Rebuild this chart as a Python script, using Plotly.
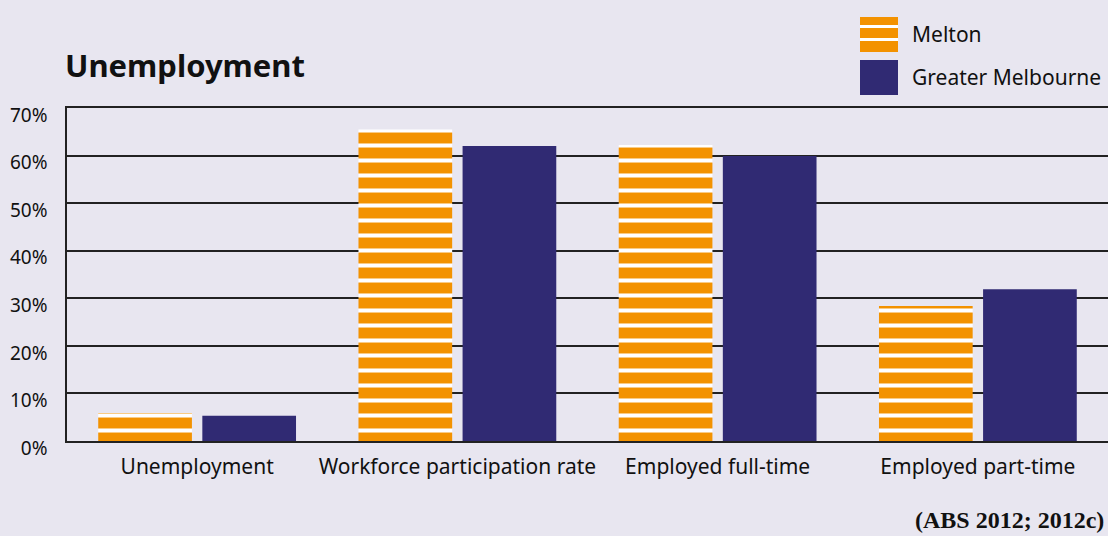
import plotly.graph_objects as go

categories = ['Unemployment', 'Workforce participation rate', 'Employed full-time', 'Employed part-time']
melton = [5.9, 65.5, 62.2, 28.4]
greater_melbourne = [5.3, 62.0, 59.9, 31.9]
series_names = ['Melton', 'Greater Melbourne']

ORANGE = '#F39200'
NAVY = '#302A73'
BG = '#E8E6F0'
FONT = 'Noto Sans'

# plot area in pixels, used to place the hand-drawn legend
PX_L, PX_R, PX_T, PX_B = 67, 1108, 108, 441


def px(x):
    return (x - PX_L) / (PX_R - PX_L)


def py(y):
    return (PX_B - y) / (PX_B - PX_T)


def main():
    fig = go.Figure()
    fig.add_trace(go.Bar(
        x=categories, y=melton, name=series_names[0],
        marker=dict(color=ORANGE, line=dict(width=0),
                    pattern=dict(shape='-', fgcolor='white', bgcolor=ORANGE, fgopacity=1,
                                 size=15, solidity=0.27, fillmode='overlay')),
    ))
    fig.add_trace(go.Bar(
        x=categories, y=greater_melbourne, name=series_names[1],
        marker=dict(color=NAVY, line=dict(width=0)),
    ))

    fig.update_layout(
        width=1108, height=536,
        paper_bgcolor=BG, plot_bgcolor=BG,
        margin=dict(l=PX_L, r=1108 - PX_R, t=PX_T, b=536 - PX_B),
        barmode='group', bargap=0.2, bargroupgap=0.1,
        showlegend=False,
        font=dict(family=FONT, size=18, color='#111'),
        xaxis=dict(showline=True, mirror=True, linecolor='#222', linewidth=2,
                   ticks='', showgrid=False, tickfont=dict(size=21),
                   ticklabelstandoff=6),
        yaxis=dict(range=[0, 70], dtick=10, ticksuffix='%', showgrid=True,
                   gridcolor='#222', gridwidth=2, showline=True, linecolor='#222',
                   linewidth=1.5, zeroline=False, ticks='', tickfont=dict(size=19),
                   ticklabelshift=7, ticklabelstandoff=14),
    )

    # hand-drawn legend, plotly's swatches are too small
    x0, x1 = px(860), px(898)
    shapes = [
        dict(type='rect', xref='paper', yref='paper', x0=x0, x1=x1, y0=py(52), y1=py(17),
             fillcolor=ORANGE, line=dict(width=0)),
        dict(type='rect', xref='paper', yref='paper', x0=x0, x1=x1, y0=py(95), y1=py(60),
             fillcolor=NAVY, line=dict(width=0)),
    ]
    for yy in (26.5, 39.5):
        shapes.append(dict(type='line', xref='paper', yref='paper', x0=x0, x1=x1,
                           y0=py(yy), y1=py(yy), line=dict(color='white', width=3)))
    fig.update_layout(shapes=shapes)

    for name, yy in zip(series_names, (34, 77)):
        fig.add_annotation(text=name, xref='paper', yref='paper', x=px(910), y=py(yy),
                           xanchor='left', yanchor='middle', showarrow=False,
                           font=dict(family=FONT, size=21, color='#111'))

    fig.add_annotation(text='<b>Unemployment</b>', xref='paper', yref='paper', x=px(63), y=py(65),
                       xanchor='left', yanchor='middle', showarrow=False,
                       font=dict(family=FONT, size=31, color='#111'))
    fig.add_annotation(text='<b>(ABS 2012; 2012c)</b>', xref='paper', yref='paper', x=px(1106),
                       y=py(520), xanchor='right', yanchor='middle', showarrow=False,
                       font=dict(family='Liberation Serif', size=24, color='#111'))

    fig.write_html('out.html', config={'displayModeBar': False},
                   post_script="document.body.style.margin='0';document.body.style.background='%s';" % BG)


if __name__ == '__main__':
    main()
